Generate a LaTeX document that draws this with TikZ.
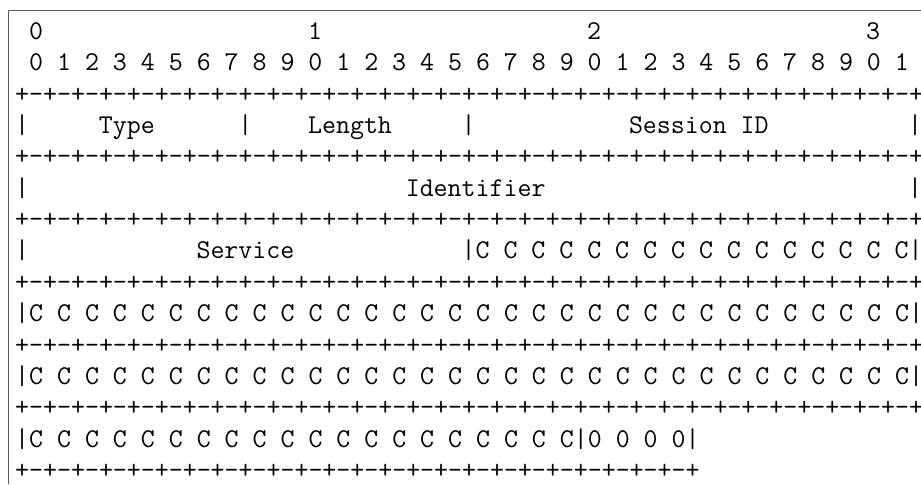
\documentclass[tikz,border=0pt]{standalone}
\usepackage{tikz}

% one character cell = 13.95pt wide, one text line = 31.35pt high
\tikzset{
  ascii/.style={font=\fontsize{27.12}{31}\selectfont\ttfamily, inner sep=0pt, anchor=base west},
  frameline/.style={draw=black!65, line width=0.9pt}
}
\newcommand{\pmeight}{+-+-+-+-+-+-+-+-}
\newcommand{\ceight}{C C C C C C C C}
\newcommand{\sepfull}{\pmeight\pmeight\pmeight\pmeight+}
\newcommand{\sepshort}{\pmeight\pmeight\pmeight+}

\begin{document}
\begin{tikzpicture}[x=13.95pt, y=-31.35pt]
\useasboundingbox (-1.0753,-1.26) rectangle (64.946,14.179);
% frame (top and left edge)
\coordinate (frtr) at (64.946,-0.919);
\coordinate (frtl) at (-0.502,-0.919);
\coordinate (frbl) at (-0.502,14.179);
\draw[frameline] (frtr) -- (frtl) -- (frbl);
% bit numbering
\node[ascii] (tens0) at (1,0) {0};
\node[ascii] (tens1) at (21,0) {1};
\node[ascii] (tens2) at (41,0) {2};
\node[ascii] (tens3) at (61,0) {3};
\node[ascii] (bits) at (1,1) {0 1 2 3 4 5 6 7 8 9 0 1 2 3 4 5 6 7 8 9 0 1 2 3 4 5 6 7 8 9 0 1};
% separator lines
\foreach \r in {2,4,6,8,10,12}
  \node[ascii] (sep\r) at (0,\r) {\sepfull};
\node[ascii] (sep14) at (0,14) {\sepshort};
% first word: type, length, session id
\node[ascii] (barA) at (0,3) {|};
\node[ascii] (type) at (6,3) {Type};
\node[ascii] (barB) at (16,3) {|};
\node[ascii] (length) at (21,3) {Length};
\node[ascii] (barC) at (32,3) {|};
\node[ascii] (session) at (44,3) {Session ID};
\node[ascii] (barD) at (64,3) {|};
% second word: identifier
\node[ascii] (barE) at (0,5) {|};
\node[ascii] (ident) at (28,5) {Identifier};
\node[ascii] (barF) at (64,5) {|};
% service and the C bits
\node[ascii] (barG) at (0,7) {|};
\node[ascii] (service) at (13,7) {Service};
\node[ascii] (cbitsA) at (32,7) {|\ceight{} \ceight|};
\node[ascii] (cbitsB) at (0,9) {|\ceight{} \ceight{} \ceight{} \ceight|};
\node[ascii] (cbitsC) at (0,11) {|\ceight{} \ceight{} \ceight{} \ceight|};
\node[ascii] (cbitsD) at (0,13) {|\ceight{} \ceight{} C C C C|0 0 0 0|};
\end{tikzpicture}
\end{document}
